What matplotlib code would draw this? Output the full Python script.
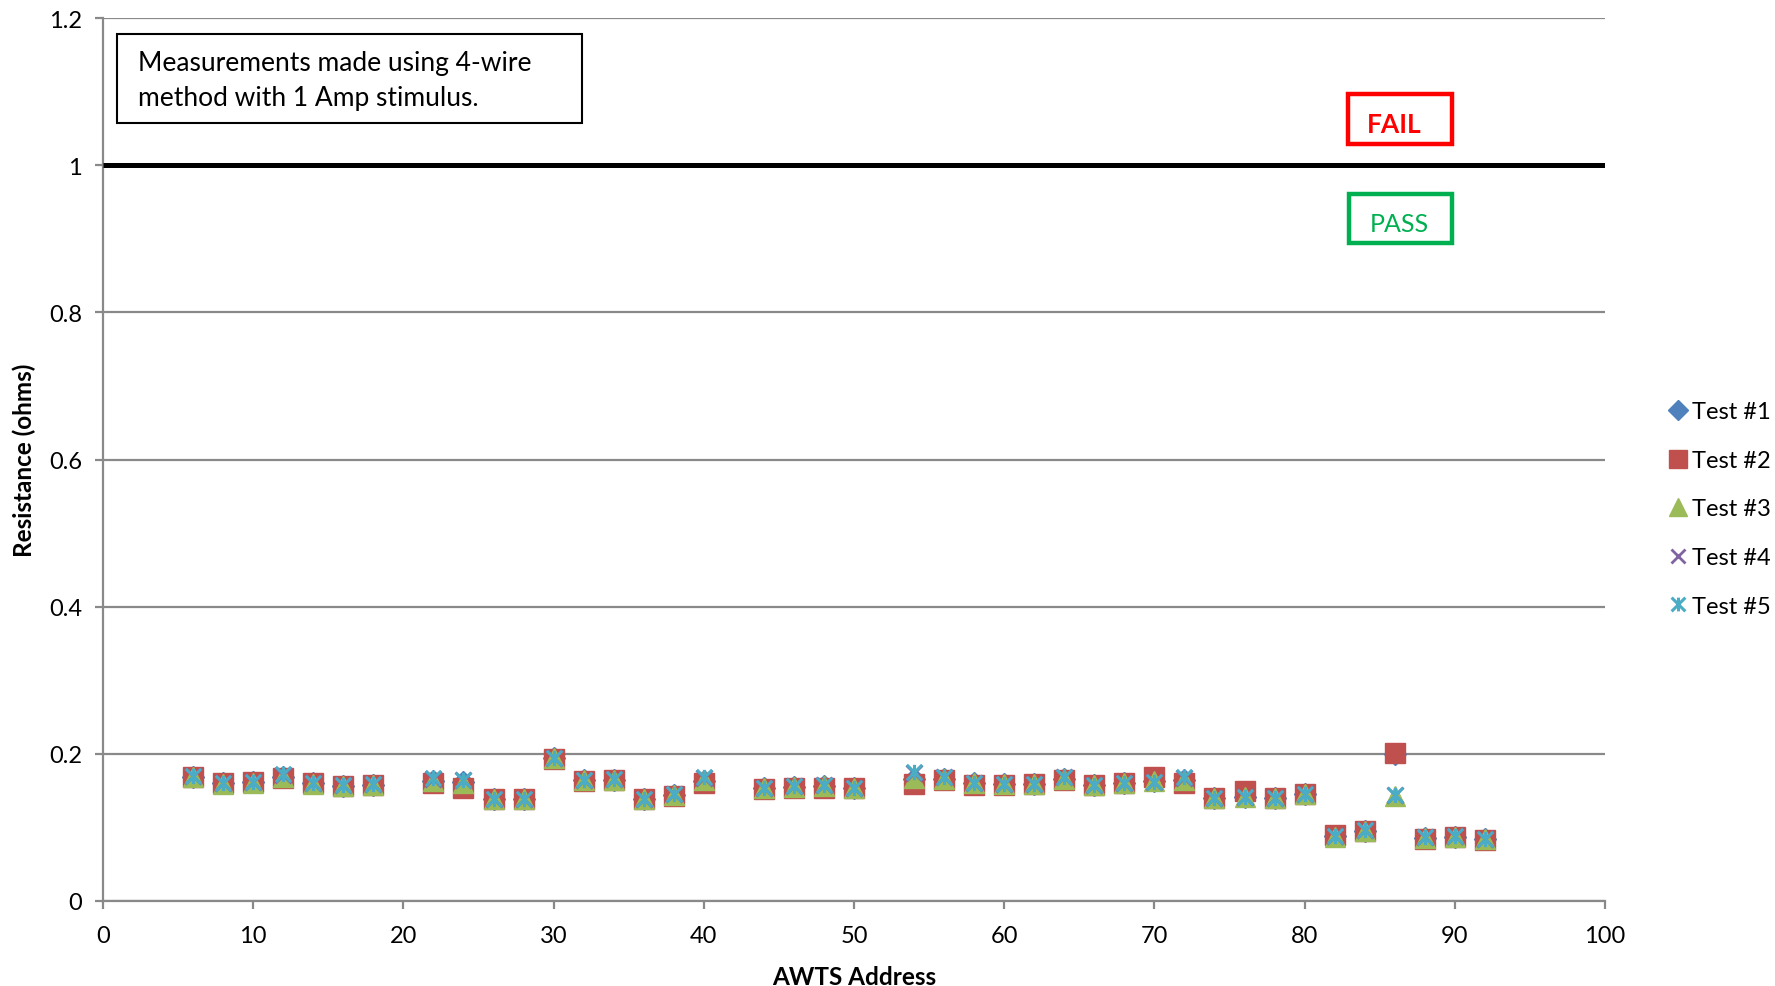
import matplotlib
matplotlib.use("Agg")
import matplotlib.pyplot as plt
from matplotlib.path import Path
from matplotlib.patches import Rectangle

plt.rcParams['font.family'] = ['Lato', 'DejaVu Sans']

# AWTS addresses that were measured
address = [6, 8, 10, 12, 14, 16, 18, 22, 24, 26, 28, 30, 32, 34, 36, 38, 40,
           44, 46, 48, 50, 54, 56, 58, 60, 62, 64, 66, 68, 70, 72, 74, 76, 78,
           80, 82, 84, 86, 88, 90, 92]

test1 = [0.169, 0.160, 0.162, 0.168, 0.160, 0.156, 0.158, 0.163, 0.162, 0.139,
         0.139, 0.194, 0.164, 0.165, 0.138, 0.144, 0.163, 0.153, 0.155, 0.156,
         0.153, 0.166, 0.166, 0.160, 0.159, 0.159, 0.166, 0.158, 0.161, 0.163,
         0.164, 0.140, 0.142, 0.140, 0.145, 0.088, 0.095, 0.200, 0.085, 0.087,
         0.084]
test2 = [0.169, 0.161, 0.162, 0.167, 0.160, 0.156, 0.157, 0.161, 0.154, 0.139,
         0.139, 0.193, 0.163, 0.164, 0.138, 0.143, 0.160, 0.152, 0.153, 0.153,
         0.153, 0.159, 0.164, 0.158, 0.158, 0.159, 0.165, 0.158, 0.161, 0.169,
         0.161, 0.140, 0.149, 0.140, 0.145, 0.090, 0.095, 0.201, 0.084, 0.087,
         0.083]
test3 = [0.169, 0.159, 0.161, 0.168, 0.159, 0.156, 0.158, 0.163, 0.160, 0.139,
         0.139, 0.194, 0.164, 0.165, 0.138, 0.144, 0.164, 0.153, 0.155, 0.156,
         0.153, 0.167, 0.166, 0.160, 0.159, 0.159, 0.166, 0.158, 0.161, 0.163,
         0.164, 0.140, 0.141, 0.140, 0.145, 0.087, 0.095, 0.143, 0.085, 0.087,
         0.084]
test4 = [0.170, 0.160, 0.162, 0.171, 0.160, 0.157, 0.159, 0.166, 0.165, 0.139,
         0.139, 0.195, 0.165, 0.166, 0.139, 0.145, 0.167, 0.153, 0.156, 0.158,
         0.153, 0.174, 0.168, 0.161, 0.159, 0.159, 0.168, 0.158, 0.161, 0.162,
         0.167, 0.140, 0.141, 0.140, 0.146, 0.088, 0.096, 0.144, 0.087, 0.088,
         0.084]
test5 = [0.170, 0.160, 0.162, 0.172, 0.160, 0.157, 0.159, 0.167, 0.165, 0.139,
         0.139, 0.195, 0.165, 0.166, 0.139, 0.145, 0.168, 0.153, 0.156, 0.158,
         0.153, 0.175, 0.168, 0.161, 0.159, 0.159, 0.169, 0.158, 0.161, 0.162,
         0.168, 0.140, 0.141, 0.140, 0.146, 0.088, 0.096, 0.144, 0.087, 0.088,
         0.084]

limit_x = [0, 100]
limit_y = [1.0, 1.0]

series_names = ['Test #1', 'Test #2', 'Test #3', 'Test #4', 'Test #5']
colors = ['#4F81BD', '#C0504D', '#9BBB59', '#8064A2', '#4BACC6']

# asterisk marker: an X with a vertical stroke through it
star = Path([(-1, -1), (1, 1), (-1, 1), (1, -1), (0, -1), (0, 1)],
            [Path.MOVETO, Path.LINETO, Path.MOVETO, Path.LINETO, Path.MOVETO, Path.LINETO])

W, H = 1775, 987
fig = plt.figure(figsize=(W / 100, H / 100), dpi=100)
ax = fig.add_axes([103 / W, 1 - 902 / H, (1605 - 103) / W, (902 - 19) / H])

grid_c = '#898989'
ax.set_xlim(0, 100)
ax.set_ylim(0, 1.2)
ax.set_xticks(range(0, 101, 10))
ax.set_yticks([0, 0.2, 0.4, 0.6, 0.8, 1.0, 1.2])
ax.set_yticklabels(['0', '0.2', '0.4', '0.6', '0.8', '1', '1.2'])
ax.yaxis.grid(True, color=grid_c, linewidth=1.6)
ax.set_axisbelow(True)
for s in ['top', 'right']:
    ax.spines[s].set_visible(False)
for s in ['left', 'bottom']:
    ax.spines[s].set_color(grid_c)
    ax.spines[s].set_linewidth(1.6)
ax.tick_params(axis='both', direction='out', length=6, width=1.6, color=grid_c,
               labelsize=17)
ax.tick_params(axis='x', pad=11)
ax.tick_params(axis='y', pad=9)

ax.set_xlabel('AWTS Address', fontsize=17.5, fontweight='bold', labelpad=14)
ax.set_ylabel('Resistance (ohms)', fontsize=17.5, fontweight='bold', labelpad=9)

ax.plot(limit_x, limit_y, color='black', linewidth=3.6, solid_capstyle='butt', zorder=3)

ax.plot(address, test1, linestyle='none', marker='D', markersize=11,
        color=colors[0], label=series_names[0], zorder=4)
ax.plot(address, test2, linestyle='none', marker='s', markersize=14,
        color=colors[1], label=series_names[1], zorder=4)
ax.plot(address, test3, linestyle='none', marker='^', markersize=15,
        color=colors[2], label=series_names[2], zorder=4)
ax.plot(address, test4, linestyle='none', marker='x', markersize=11, markeredgewidth=2,
        color=colors[3], label=series_names[3], zorder=4)
ax.plot(address, test5, linestyle='none', marker=star, markersize=11, markeredgewidth=2.2,
        color=colors[4], fillstyle='none', label=series_names[4], zorder=4)

ax.legend(loc='center left', bbox_to_anchor=(1.037, 0.444), frameon=False, fontsize=17,
          handlelength=0.7, handletextpad=0.25, labelspacing=1.17, borderaxespad=0.0,
          markerscale=0.9)

# note box
fig.add_artist(Rectangle((117 / W, 1 - 124 / H), (582 - 117) / W, (124 - 35) / H,
                         transform=fig.transFigure, facecolor='white', edgecolor='black',
                         linewidth=1.5, zorder=5))
fig.text(138 / W, 1 - 81 / H, 'Measurements made using 4-wire\nmethod with 1 Amp stimulus.',
         fontsize=19, va='center', ha='left', linespacing=1.5, zorder=6)

# FAIL / PASS labels either side of the limit
fig.add_artist(Rectangle((1348 / W, 1 - 145 / H), (1452 - 1348) / W, (145 - 95) / H,
                         transform=fig.transFigure, facecolor='white', edgecolor='#FF0000',
                         linewidth=3.2, zorder=5))
fig.text(1394 / W, 1 - 125 / H, 'FAIL', color='#FF0000', fontsize=19, fontweight='bold',
         ha='center', va='center', zorder=6)
fig.add_artist(Rectangle((1349 / W, 1 - 244 / H), (1452 - 1349) / W, (244 - 195) / H,
                         transform=fig.transFigure, facecolor='white', edgecolor='#00B050',
                         linewidth=3.2, zorder=5))
fig.text(1399 / W, 1 - 224 / H, 'PASS', color='#00B050', fontsize=18,
         ha='center', va='center', zorder=6)

fig.savefig('out.png', dpi=100, facecolor='white')
